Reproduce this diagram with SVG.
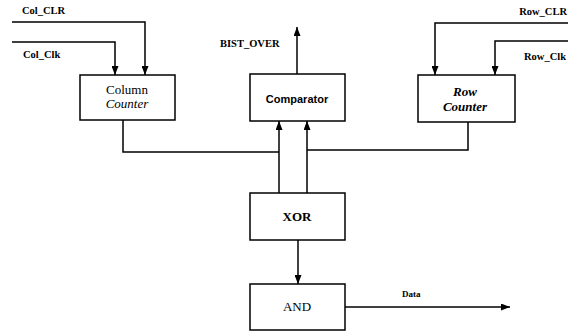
<svg xmlns="http://www.w3.org/2000/svg" width="569" height="333" viewBox="0 0 569 333">
<style>
.box{fill:#fff;stroke:#000;stroke-width:1.5}
.wire{fill:none;stroke:#000;stroke-width:1.5}
.lbl{font-family:"Liberation Serif",serif;font-weight:bold;font-size:10.5px;fill:#000}
.node{font-family:"Liberation Serif",serif;font-size:13px;fill:#000;text-anchor:middle}
.it{font-style:italic}
.b{font-weight:bold}
.sans{font-family:"Liberation Sans",sans-serif;font-weight:bold;font-size:11px}
</style>
<defs>
<marker id="ah" markerWidth="9" markerHeight="7" refX="9" refY="3.5" orient="auto" markerUnits="userSpaceOnUse">
<path d="M0,0 L9,3.5 L0,7 Z" fill="#000"/>
</marker>
</defs>
<rect width="569" height="333" fill="#fff"/>
<g id="connectors">
<path class="wire" d="M12,22 H145 V75" marker-end="url(#ah)"/>
<path class="wire" d="M12,42 H115 V75" marker-end="url(#ah)"/>
<path class="wire" d="M568,23 H435 V75" marker-end="url(#ah)"/>
<path class="wire" d="M568,41 H495 V75" marker-end="url(#ah)"/>
<path class="wire" d="M297,74 V27" marker-end="url(#ah)"/>
<path class="wire" d="M123,120 V152 H279"/>
<path class="wire" d="M468,122 V150 H307"/>
<path class="wire" d="M279,193 V121" marker-end="url(#ah)"/>
<path class="wire" d="M307,193 V121" marker-end="url(#ah)"/>
<path class="wire" d="M298,240 V284" marker-end="url(#ah)"/>
<path class="wire" d="M345,307 H510" marker-end="url(#ah)"/>
</g>
<g id="labels">
<text class="lbl" x="22" y="14">Col_CLR</text>
<text class="lbl" x="23" y="58">Col_Clk</text>
<text class="lbl" x="567" y="15" text-anchor="end">Row_CLR</text>
<text class="lbl" x="566" y="60" text-anchor="end">Row_Clk</text>
<text class="lbl" x="220" y="47">BIST_OVER</text>
<text class="lbl" x="402" y="297" style="font-size:9px">Data</text>
</g>
<g id="column-counter">
<rect class="box" x="80" y="75" width="95" height="45"/>
<text class="node" x="127" y="94">Column</text>
<text class="node it" x="127" y="108">Counter</text>
</g>
<g id="comparator">
<rect class="box" x="250" y="74" width="95" height="47"/>
<text class="node sans" x="297" y="103">Comparator</text>
</g>
<g id="row-counter">
<rect class="box" x="418" y="75" width="97" height="47"/>
<text class="node it b" x="465" y="96">Row</text>
<text class="node it b" x="465" y="111">Counter</text>
</g>
<g id="xor">
<rect class="box" x="250" y="193" width="95" height="47"/>
<text class="node b" x="297" y="221">XOR</text>
</g>
<g id="and">
<rect class="box" x="250" y="284" width="95" height="46"/>
<text class="node" x="297" y="311">AND</text>
</g>
</svg>
